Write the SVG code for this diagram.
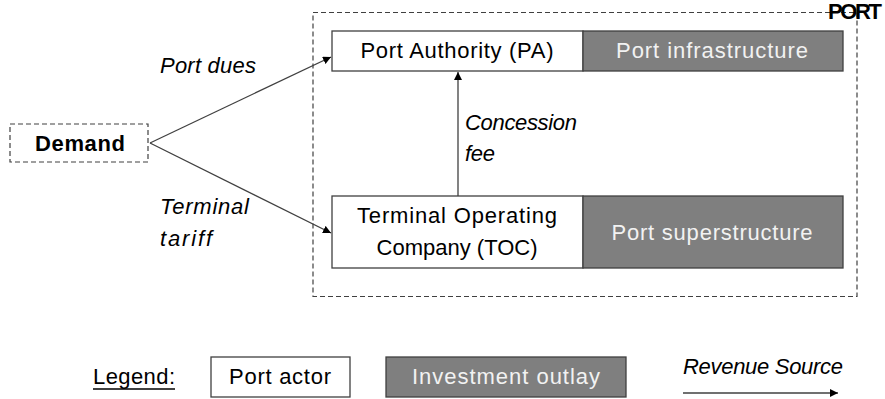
<svg xmlns="http://www.w3.org/2000/svg" width="885" height="399" viewBox="0 0 885 399">
<style>
text{font-family:"Liberation Sans","Open Sans",sans-serif;font-size:22px;fill:#000}
.it{font-style:italic}
.w{fill:#f2f2f2}
.actor{fill:#fff;stroke:#404040;stroke-width:1.3}
.inv{fill:#7f7f7f;stroke:#404040;stroke-width:1.3}
.dash{fill:none;stroke:#404040;stroke-width:1.2;stroke-dasharray:5,3}
.conn{stroke:#404040;stroke-width:1.3;fill:none}
</style>
<defs>
<marker id="ah" viewBox="0 0 10 10" refX="10" refY="5" markerWidth="8" markerHeight="8" markerUnits="userSpaceOnUse" orient="auto">
<path d="M0,0 L10,5 L0,10 z" fill="#000"/>
</marker>
</defs>
<rect width="885" height="399" fill="#fff"/>
<g id="port">
<rect class="dash" x="313" y="12.5" width="544" height="284"/>
<text x="828" y="19" font-weight="bold" font-size="18" textLength="54">PORT</text>
</g>
<g id="demand">
<rect class="dash" x="10" y="124" width="138" height="38"/>
<text x="80" y="151" text-anchor="middle" font-weight="bold" font-size="20" textLength="90">Demand</text>
</g>
<g id="pa">
<rect class="actor" x="332" y="31" width="251" height="40"/>
<text x="457" y="58" text-anchor="middle" textLength="193">Port Authority (PA)</text>
</g>
<g id="infra">
<rect class="inv" x="583" y="31" width="260" height="40"/>
<text class="w" x="712" y="58" text-anchor="middle" textLength="192">Port infrastructure</text>
</g>
<g id="toc">
<rect class="actor" x="332" y="196" width="251" height="72"/>
<text x="457" y="223" text-anchor="middle" textLength="200">Terminal Operating</text>
<text x="457" y="255" text-anchor="middle" textLength="161">Company (TOC)</text>
</g>
<g id="super">
<rect class="inv" x="583" y="196" width="260" height="72"/>
<text class="w" x="712" y="240" text-anchor="middle" textLength="201">Port superstructure</text>
</g>
<g id="connectors">
<line class="conn" x1="150" y1="143" x2="331" y2="57" marker-end="url(#ah)"/>
<line class="conn" x1="150" y1="143" x2="331" y2="233" marker-end="url(#ah)"/>
<line class="conn" x1="458" y1="196" x2="458" y2="72" marker-end="url(#ah)"/>
</g>
<g id="labels">
<text class="it" x="160" y="73" textLength="96">Port dues</text>
<text class="it" x="160" y="214" textLength="89">Terminal</text>
<text class="it" x="160" y="246" textLength="52">tariff</text>
<text class="it" x="465" y="130" textLength="112">Concession</text>
<text class="it" x="465" y="161" textLength="30">fee</text>
</g>
<g id="legend">
<text x="93" y="384" textLength="82">Legend:</text>
<line x1="93" y1="389" x2="175" y2="389" stroke="#000" stroke-width="1.3"/>
<rect class="actor" x="211" y="357" width="139" height="40"/>
<text x="280" y="384" text-anchor="middle" textLength="102">Port actor</text>
<rect class="inv" x="386" y="357" width="240" height="40"/>
<text class="w" x="506" y="384" text-anchor="middle" textLength="188">Investment outlay</text>
<text class="it" x="683" y="374" font-size="20" textLength="160">Revenue Source</text>
<line class="conn" x1="683" y1="393" x2="838" y2="393" marker-end="url(#ah)"/>
</g>
</svg>
